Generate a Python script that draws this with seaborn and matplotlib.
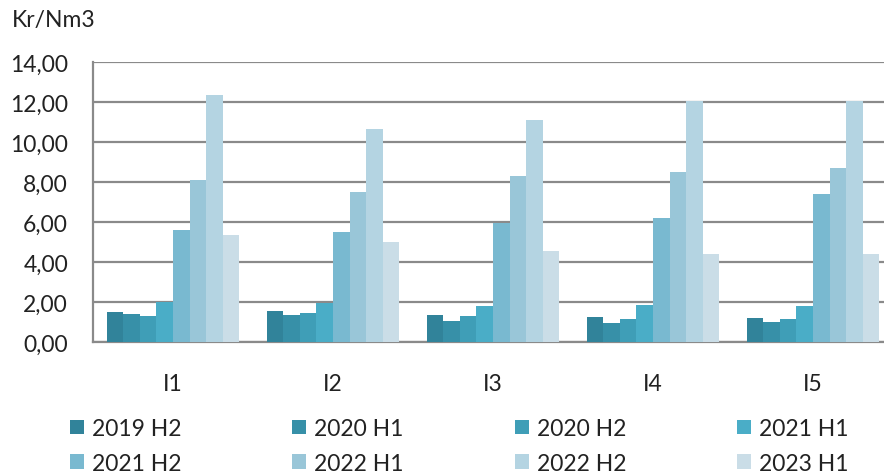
import numpy as np
import pandas as pd
import matplotlib
matplotlib.use("Agg")
import matplotlib.pyplot as plt
from matplotlib.patches import Patch
import seaborn as sns

# data (Kr/Nm3)
regions = ["I1", "I2", "I3", "I4", "I5"]
periods = ["2019 H2", "2020 H1", "2020 H2", "2021 H1",
           "2021 H2", "2022 H1", "2022 H2", "2023 H1"]
v_2019_h2 = [1.53, 1.58, 1.38, 1.25, 1.20]
v_2020_h1 = [1.40, 1.38, 1.05, 0.95, 1.00]
v_2020_h2 = [1.33, 1.45, 1.32, 1.15, 1.15]
v_2021_h1 = [2.00, 1.97, 1.83, 1.88, 1.83]
v_2021_h2 = [5.60, 5.50, 5.95, 6.20, 7.40]
v_2022_h1 = [8.10, 7.53, 8.30, 8.50, 8.70]
v_2022_h2 = [12.37, 10.67, 11.13, 12.08, 12.08]
v_2023_h1 = [5.38, 5.03, 4.58, 4.40, 4.40]
colors = ["#31839A", "#3790A8", "#3F9EB7", "#4AADC7",
          "#79B9D0", "#99C6D8", "#B4D4E2", "#CADDE7"]

series = [v_2019_h2, v_2020_h1, v_2020_h2, v_2021_h1,
          v_2021_h2, v_2022_h1, v_2022_h2, v_2023_h1]
rows = []
for p, vals in zip(periods, series):
    for r, v in zip(regions, vals):
        rows.append({"region": r, "period": p, "price": v})
df = pd.DataFrame(rows)

sns.set_style("white")
plt.rcParams["font.family"] = ["Lato", "DejaVu Sans"]
grid_col = "#8A8A8A"

fig = plt.figure(figsize=(8.84, 4.77), dpi=100)
ax = fig.add_axes([93/884, 133.7/477, 800/884, 280/477])

sns.barplot(data=df, x="region", y="price", hue="period", hue_order=periods,
            palette=colors, saturation=1, width=0.83, linewidth=0,
            errorbar=None, legend=False, ax=ax, zorder=3)

ax.set_xlim(-0.5, 4.5)
ax.set_ylim(0, 14)
yt = np.arange(0, 15, 2)
ax.set_yticks(yt)
ax.set_yticklabels([f"{v:.2f}".replace(".", ",") for v in yt])
ax.yaxis.grid(True, color=grid_col, lw=1.6, zorder=0)
ax.set_axisbelow(True)
ax.set_xlabel("")
ax.set_ylabel("")

for s in ["top", "right"]:
    ax.spines[s].set_visible(False)
for s in ["left", "bottom"]:
    ax.spines[s].set_color(grid_col)
    ax.spines[s].set_linewidth(1.6)

ax.set_xticks(range(len(regions)))
ax.set_xticklabels(regions)
ax.set_xticks(np.arange(-0.5, 5, 1), minor=True)
ax.tick_params(axis="x", which="major", length=0, pad=22, labelsize=16.5, colors="#222222")
ax.tick_params(axis="x", which="minor", length=6, width=1.6, color=grid_col, direction="out")
ax.tick_params(axis="y", length=6, width=1.6, color=grid_col, pad=12, labelsize=16.5, labelcolor="#222222")

fig.text(12/884, 1 - 20/477, "Kr/Nm3", fontsize=16.5, color="#222222", va="center", ha="left")

# legend, row-wise order over 4 columns
handles = [Patch(facecolor=c, edgecolor="none") for c in colors]
order = [0, 4, 1, 5, 2, 6, 3, 7]
fig.legend([handles[i] for i in order], [periods[i] for i in order],
           ncol=4, loc="center left", bbox_to_anchor=(70/884, 1 - 446.75/477),
           frameon=False, fontsize=16.5, handlelength=0.6, handleheight=0.6,
           handletextpad=0.35, columnspacing=4.85, labelspacing=0.6,
           labelcolor="#222222", borderaxespad=0, borderpad=0)

fig.savefig("out.png", dpi=100)
